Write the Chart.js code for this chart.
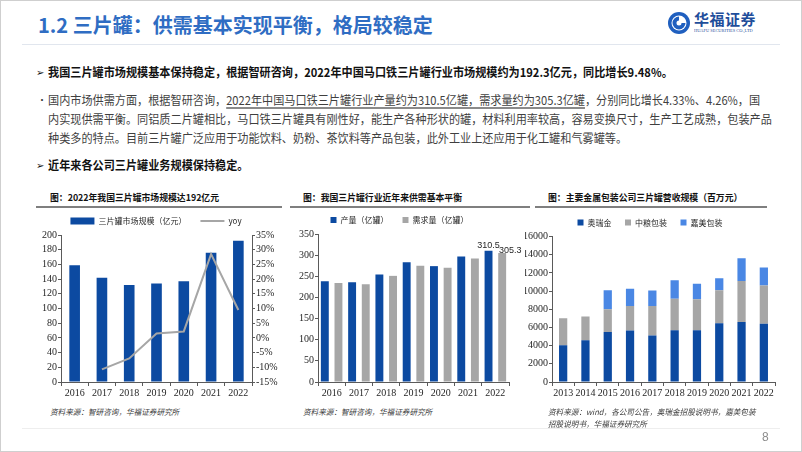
<!DOCTYPE html>
<html lang="zh-CN">
<head>
<meta charset="utf-8">
<title>三片罐：供需基本实现平衡</title>
<script src="https://cdn.jsdelivr.net/npm/chart.js@4.4.0/dist/chart.umd.min.js"></script>
<style>
  html, body { margin: 0; padding: 0; }
  body { width: 802px; height: 452px; position: relative; overflow: hidden; background: #fff;
         font-family: "Noto Sans CJK SC", "Noto Sans", sans-serif; }
  .frame { position: absolute; left: 0; top: 0; width: 800px; height: 450px; border: 1px solid #cfcfcf; }
  .title { position: absolute; left: 38px; top: 13px; font-size: 20px; line-height: 24px; font-weight: bold;
           color: #2f6dc3; white-space: nowrap; }
  .head-line { position: absolute; left: 22px; top: 44px; width: 758px; height: 1px; background: #e1e6ee; }
  .logo { position: absolute; left: 667px; top: 11px; }
  .logo-cn { position: absolute; left: 694px; top: 10px; font-size: 15px; line-height: 18px; font-weight: bold;
             color: #1f4e9b; letter-spacing: 0.5px; font-family: "Noto Sans CJK SC", serif; }
  .logo-en { position: absolute; left: 694px; top: 29px; font-size: 8px; line-height: 8px; color: #1f4e9b;
             transform: scale(0.55); transform-origin: left top; white-space: nowrap; font-family: "Liberation Serif", serif; }
  .txt { position: absolute; left: 48px; white-space: nowrap; font-size: 12px; line-height: 19px;
         transform: scaleX(0.928); transform-origin: left center; }
  .bold { font-weight: bold; color: #111; }
  .para { color: #3f3f3f; }
  .para u { text-decoration-color: #8a8a8a; text-decoration-thickness: 1.5px; text-underline-offset: 2px; }
  .mark { position: absolute; font-size: 10px; line-height: 19px; color: #111; }
  .ctitle { position: absolute; top: 191px; font-size: 9.5px; line-height: 13px; font-weight: bold; color: #111;
            white-space: nowrap; transform: scaleX(0.93); transform-origin: left center; }
  .cline { position: absolute; top: 206px; height: 2px; background: #7f7f7f; }
  .box { position: absolute; }
  .src { position: absolute; font-size: 8px; line-height: 12px; font-style: italic; color: #404040;
         white-space: nowrap; transform: scaleX(0.95); transform-origin: left center; }
  .foot-line { position: absolute; left: 22px; top: 428px; width: 758px; height: 1px; background: #eeeeee; }
  .page { position: absolute; left: 762px; top: 429px; font-size: 12px; line-height: 16px; color: #8c8c8c;
          font-family: "Liberation Sans", sans-serif; }
</style>
</head>
<body>
<div class="frame"></div>
<div class="title">1.2 三片罐：供需基本实现平衡，格局较稳定</div>
<div class="head-line"></div>
<svg class="logo" width="24" height="24" viewBox="0 0 24 24">
  <circle cx="12" cy="12" r="11" fill="#1f5fbf"/>
  <circle cx="12" cy="12" r="7.5" fill="#fff"/>
  <path d="M12 5.5 A6.5 6.5 0 1 0 18.5 12 L14.5 12 A2.5 2.5 0 1 1 12 9.5 Z" fill="#1f5fbf"/>
</svg>
<div class="logo-cn">华福证券</div>
<div class="logo-en">HUAFU SECURITIES CO.,LTD</div>

<div class="mark" style="left:36px; top:62px;">➢</div>
<div class="txt bold" style="top:62px;">我国三片罐市场规模基本保持稳定，根据智研咨询，2022年中国马口铁三片罐行业市场规模约为192.3亿元，同比增长9.48%。</div>
<div class="mark" style="left:37px; top:90px; color:#3f3f3f;">•</div>
<div class="txt para" style="top:90px;">国内市场供需方面，根据智研咨询，<u>2022年中国马口铁三片罐行业产量约为310.5亿罐，需求量约为305.3亿罐</u>，分别同比增长4.33%、4.26%，国</div>
<div class="txt para" style="top:109px;">内实现供需平衡。同铝质二片罐相比，马口铁三片罐具有刚性好，能生产各种形状的罐，材料利用率较高，容易变换尺寸，生产工艺成熟，包装产品</div>
<div class="txt para" style="top:128px;">种类多的特点。目前三片罐广泛应用于功能饮料、奶粉、茶饮料等产品包装，此外工业上还应用于化工罐和气雾罐等。</div>
<div class="mark" style="left:36px; top:155px;">➢</div>
<div class="txt bold" style="top:155px;">近年来各公司三片罐业务规模保持稳定。</div>

<div class="ctitle" style="left:50px;">图：2022年我国三片罐市场规模达192亿元</div>
<div class="cline" style="left:36px; width:246px;"></div>
<div class="ctitle" style="left:303px;">图：我国三片罐行业近年来供需基本平衡</div>
<div class="cline" style="left:290px; width:240px;"></div>
<div class="ctitle" style="left:548px;">图：主要金属包装公司三片罐营收规模（百万元）</div>
<div class="cline" style="left:535px; width:232px;"></div>

<div class="box" style="left:30px; top:203px; width:252px; height:197px;"><canvas id="marketChart"></canvas></div>
<div class="box" style="left:290px; top:202px; width:240px; height:198px;"><canvas id="supplyChart"></canvas></div>
<div class="box" style="left:525px; top:205px; width:252px; height:195px;"><canvas id="companyChart"></canvas></div>

<div class="src" style="left:50px; top:406px;">资料来源：智研咨询，华福证券研究所</div>
<div class="src" style="left:303px; top:406px;">资料来源：智研咨询，华福证券研究所</div>
<div class="src" style="left:548px; top:406px;">资料来源：wind，各公司公告，奥瑞金招股说明书，嘉美包装</div>
<div class="src" style="left:548px; top:418px;">招股说明书，华福证券研究所</div>
<div class="foot-line"></div>
<div class="page">8</div>

<script>
// --- DADOS ---
const years = ['2016', '2017', '2018', '2019', '2020', '2021', '2022'];
const marketSize = [159, 142, 132, 134, 137, 176, 192.3];      // 亿元
const marketYoy = [null, -10.7, -7.0, 1.5, 2.2, 28.5, 9.48];    // %
const sizeTicks = [0, 20, 40, 60, 80, 100, 120, 140, 160, 180, 200];
const yoyTicks = [-15, -10, -5, 0, 5, 10, 15, 20, 25, 30, 35];

const canOutput = [238, 236, 254, 283, 274, 297, 310.5];      // 亿罐
const canDemand = [234, 231, 251, 275, 270, 292, 305.3];
const supplyTicks = [0, 50, 100, 150, 200, 250, 300, 350];

const companyYears = ['2013', '2014', '2015', '2016', '2017', '2018', '2019', '2020', '2021', '2022'];
const orgRevenue = [4050, 4600, 5500, 5650, 5100, 5700, 5700, 6450, 6600, 6400];
const cofcoRevenue = [2950, 2600, 2500, 2700, 3250, 3450, 3400, 3650, 4500, 4200];
const jiameiRevenue = [null, null, 2100, 1900, 1700, 2050, 1700, 1300, 2500, 2000];
const revenueTicks = [0, 2000, 4000, 6000, 8000, 10000, 12000, 14000, 16000];

const DARK_BLUE = '#0c4aa1';
const GRAY = '#a6a6a6';
const LIGHT_BLUE = '#4a87e4';
const AXIS = '#5a5a5a';

Chart.defaults.font.family = '"Liberation Serif", serif';
Chart.defaults.font.size = 10;
Chart.defaults.color = '#262626';
Chart.defaults.animation = false;

// --- EIXOS ---
function xAxis(height) {
    return {
        grid: { display: true, drawOnChartArea: false, offset: true, tickLength: 4, color: AXIS },
        border: { color: AXIS },
        ticks: { padding: 1, maxRotation: 0, autoSkip: false },
        afterFit: s => { s.height = height; }
    };
}

function yAxis(list, width, position, fmt) {
    return {
        position: position,
        min: list[0], max: list[list.length - 1],
        grid: { display: true, drawOnChartArea: false, tickLength: 3, color: AXIS },
        border: { color: AXIS },
        ticks: { padding: 1, autoSkip: false, callback: v => fmt ? fmt(v) : v },
        afterBuildTicks: s => { s.ticks = list.map(v => ({ value: v })); },
        afterFit: s => { s.width = width; }
    };
}

const legendFont = { family: '"Noto Sans CJK SC", sans-serif', size: 8 };

// --- GRÁFICO 1: 市场规模 ---
new Chart(document.getElementById('marketChart'), {
    type: 'bar',
    data: {
        labels: years,
        datasets: [{
            label: '三片罐市场规模（亿元）', data: marketSize, yAxisID: 'y',
            backgroundColor: DARK_BLUE, barPercentage: 0.39, categoryPercentage: 1,
            pointStyle: 'rect', order: 2
        }, {
            type: 'line', label: 'yoy', data: marketYoy, yAxisID: 'y1',
            borderColor: GRAY, backgroundColor: GRAY, borderWidth: 2, pointRadius: 0,
            pointStyle: 'line', tension: 0, order: 1
        }]
    },
    options: {
        responsive: true, maintainAspectRatio: false,
        layout: { padding: 0 },
        plugins: {
            legend: {
                labels: {
                    usePointStyle: true, pointStyleWidth: 24, boxHeight: 7, padding: 14, font: legendFont,
                    sort: (a, b) => a.datasetIndex - b.datasetIndex
                }
            },
            tooltip: { enabled: false }
        },
        scales: {
            x: xAxis(18),
            y: yAxis(sizeTicks, 31, 'left'),
            y1: yAxis(yoyTicks, 30, 'right', v => v + '%')
        }
    }
});

// --- GRÁFICO 2: 供需 ---
const lastLabels = {
    id: 'lastLabels',
    afterDatasetsDraw(chart) {
        const ctx = chart.ctx;
        const i = canOutput.length - 1;
        const a = chart.getDatasetMeta(0).data[i];
        const b = chart.getDatasetMeta(1).data[i];
        ctx.save();
        ctx.font = '9px "Liberation Sans", sans-serif';
        ctx.fillStyle = '#262626';
        ctx.textAlign = 'center';
        ctx.textBaseline = 'bottom';
        ctx.fillText(canOutput[i].toFixed(1), a.x, a.y - 1);
        ctx.fillText(canDemand[i].toFixed(1), b.x + 8, b.y + 2);
        ctx.restore();
    }
};

new Chart(document.getElementById('supplyChart'), {
    type: 'bar',
    data: {
        labels: years,
        datasets: [{
            label: '产量（亿罐）', data: canOutput, backgroundColor: DARK_BLUE,
            barPercentage: 0.58, categoryPercentage: 1
        }, {
            label: '需求量（亿罐）', data: canDemand, backgroundColor: GRAY,
            barPercentage: 0.58, categoryPercentage: 1
        }]
    },
    options: {
        responsive: true, maintainAspectRatio: false,
        layout: { padding: { right: 21 } },
        plugins: {
            legend: { labels: { boxWidth: 6, boxHeight: 6, padding: 14, font: legendFont } },
            tooltip: { enabled: false }
        },
        scales: {
            x: xAxis(18),
            y: yAxis(supplyTicks, 28, 'left')
        }
    },
    plugins: [lastLabels]
});

// --- GRÁFICO 3: 营收规模 ---
new Chart(document.getElementById('companyChart'), {
    type: 'bar',
    data: {
        labels: companyYears,
        datasets: [{
            label: '奥瑞金', data: orgRevenue, backgroundColor: DARK_BLUE,
            barPercentage: 0.37, categoryPercentage: 1
        }, {
            label: '中粮包装', data: cofcoRevenue, backgroundColor: GRAY,
            barPercentage: 0.37, categoryPercentage: 1
        }, {
            label: '嘉美包装', data: jiameiRevenue, backgroundColor: LIGHT_BLUE,
            barPercentage: 0.37, categoryPercentage: 1
        }]
    },
    options: {
        responsive: true, maintainAspectRatio: false,
        layout: { padding: { right: 2 } },
        plugins: {
            legend: { labels: { boxWidth: 6, boxHeight: 6, padding: 13.5, font: legendFont } },
            tooltip: { enabled: false }
        },
        scales: {
            x: Object.assign(xAxis(18), { stacked: true }),
            y: Object.assign(yAxis(revenueTicks, 27, 'left'), { stacked: true })
        }
    }
});
</script>
</body>
</html>
